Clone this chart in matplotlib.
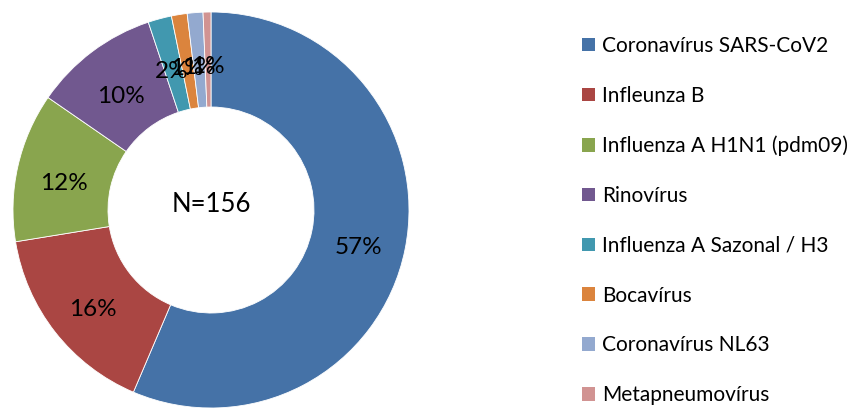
import matplotlib
matplotlib.use("Agg")
import matplotlib.pyplot as plt
from matplotlib.patches import Patch

categories = ["Coronavírus SARS-CoV2", "Infleunza B", "Influenza A H1N1 (pdm09)",
              "Rinovírus", "Influenza A Sazonal / H3", "Bocavírus",
              "Coronavírus NL63", "Metapneumovírus"]
counts = [88, 25, 19, 16, 3, 2, 2, 1]
pct_labels = ["57%", "16%", "12%", "10%", "2%", "1%", "1%", "1%"]
colors = ["#4572A7", "#AA4643", "#89A54E", "#71588F", "#4198AF", "#DB843D",
          "#93A9CF", "#D19392"]
center_text = "N=156"

plt.rcParams['font.family'] = ['Lato', 'DejaVu Sans']

W, H = 860, 409
fig = plt.figure(figsize=(W/100, H/100), dpi=100)
cx, cy, half = 211, 210, 200
ax = fig.add_axes([(cx-half)/W, (H-cy-half)/H, 2*half/W, 2*half/H])

wedges, texts = ax.pie(
    counts, colors=colors, startangle=90, counterclock=False, radius=0.99,
    labels=pct_labels, labeldistance=0.76,
    wedgeprops=dict(width=0.475, edgecolor='white', linewidth=0.6),
    textprops=dict(fontsize=17.5, color='black'))
for t in texts:
    t.set_horizontalalignment('center')
    t.set_verticalalignment('center')
    x, y = t.get_position()
    t.set_position((x, y - 0.035))
ax.set_xlim(-1, 1)
ax.set_ylim(-1, 1)
ax.axis('off')
ax.text(0, 0.025, center_text, ha='center', va='center', fontsize=18.5, color='black')

handles = [Patch(facecolor=c, edgecolor='none') for c in colors]
fig.legend(handles, categories, loc='upper left', bbox_to_anchor=(582/W, 1-36/H),
           frameon=False, fontsize=15, handlelength=0.62, handleheight=0.62,
           handletextpad=0.35, labelspacing=1.43, borderaxespad=0, borderpad=0)

fig.savefig("out.png", dpi=100)
